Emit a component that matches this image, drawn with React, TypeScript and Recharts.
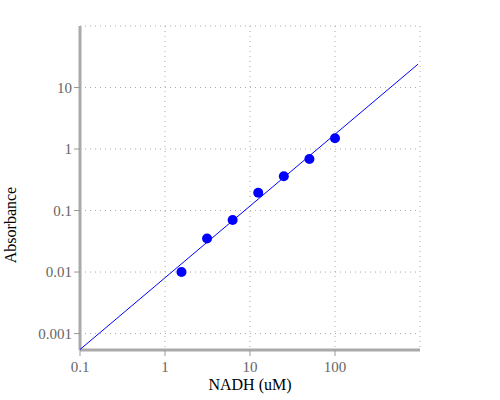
import React from 'react';
import {
  ScatterChart,
  Scatter,
  XAxis,
  YAxis,
  CartesianGrid,
} from 'recharts';

// NADH standard curve (log-log)
const nadh = [1.5625, 3.125, 6.25, 12.5, 25, 50, 100];
const absorbance = [0.01, 0.035, 0.07, 0.195, 0.36, 0.69, 1.5];

// fitted power-law line, end points
const fitX = [0.1, 950];
const fitY = [0.00055, 24];

const xTicks = [0.1, 1, 10, 100, 1000];
const xLabels = ['0.1', '1', '10', '100', ''];
const yTicks = [0.001, 0.01, 0.1, 1, 10, 100];
const yLabels = ['0.001', '0.01', '0.1', '1', '10', ''];

const points = nadh.map((x, i) => ({ x, y: absorbance[i] }));
const fitLine = fitX.map((x, i) => ({ x, y: fitY[i] }));

const FONT = '"Liberation Serif", "DejaVu Serif", serif';

const XTick = ({ x, y, payload }: any) => {
  const i = xTicks.indexOf(payload.value);
  const label = xLabels[i] ?? '';
  if (!label) return <g />;
  return (
    <g>
      <line x1={x} x2={x} y1={y - 8} y2={y - 2} stroke="#999" strokeWidth={1} />
      <text x={x} y={y + 14} textAnchor="middle" fill="#666" fontSize={15} fontFamily={FONT}>
        {label}
      </text>
    </g>
  );
};

const YTick = ({ x, y, payload }: any) => {
  const i = yTicks.indexOf(payload.value);
  const label = yLabels[i] ?? '';
  if (!label) return <g />;
  return (
    <g>
      <line x1={x + 2} x2={x + 8} y1={y} y2={y} stroke="#999" strokeWidth={1} />
      <text x={x} y={y} dy={5} textAnchor="end" fill="#666" fontSize={15} fontFamily={FONT}>
        {label}
      </text>
    </g>
  );
};

const YTitle = () => (
  <text
    x={16}
    y={225}
    transform="rotate(-90, 16, 225)"
    textAnchor="middle"
    fill="#000"
    fontSize={16}
    fontFamily={FONT}
  >
    Absorbance
  </text>
);

const NoDot = () => <g />;

export default function App() {
  return (
    <div style={{ position: 'absolute', left: 0, top: 0, width: 500, height: 400, background: '#fff' }}>
      <ScatterChart width={500} height={400} margin={{ top: 26, right: 80, left: 0, bottom: 0 }}>
        <CartesianGrid stroke="#aaa" strokeDasharray="1 4" />
        <XAxis
          type="number"
          dataKey="x"
          scale="log"
          domain={[0.1, 1000]}
          ticks={xTicks}
          allowDataOverflow
          height={50}
          axisLine={{ stroke: '#aaa', strokeWidth: 3 }}
          tickLine={false}
          tick={<XTick />}
          label={{ value: 'NADH (uM)', position: 'insideBottom', offset: 10, fill: '#000', fontSize: 16, fontFamily: FONT }}
        />
        <YAxis
          type="number"
          dataKey="y"
          scale="log"
          domain={[0.00054, 100]}
          ticks={yTicks}
          allowDataOverflow
          width={80}
          axisLine={{ stroke: '#aaa', strokeWidth: 3 }}
          tickLine={false}
          tick={<YTick />}
          label={{ content: () => <YTitle /> }}
        />
        <Scatter
          data={fitLine}
          line={{ stroke: '#0000ff', strokeWidth: 1 }}
          shape={<NoDot />}
          fill="#0000ff"
          isAnimationActive={false}
        />
        <Scatter
          data={points}
          fill="#0000ff"
          shape={(props: any) => <circle cx={props.cx} cy={props.cy} r={5} fill="#0000ff" />}
          isAnimationActive={false}
        />
      </ScatterChart>
    </div>
  );
}
